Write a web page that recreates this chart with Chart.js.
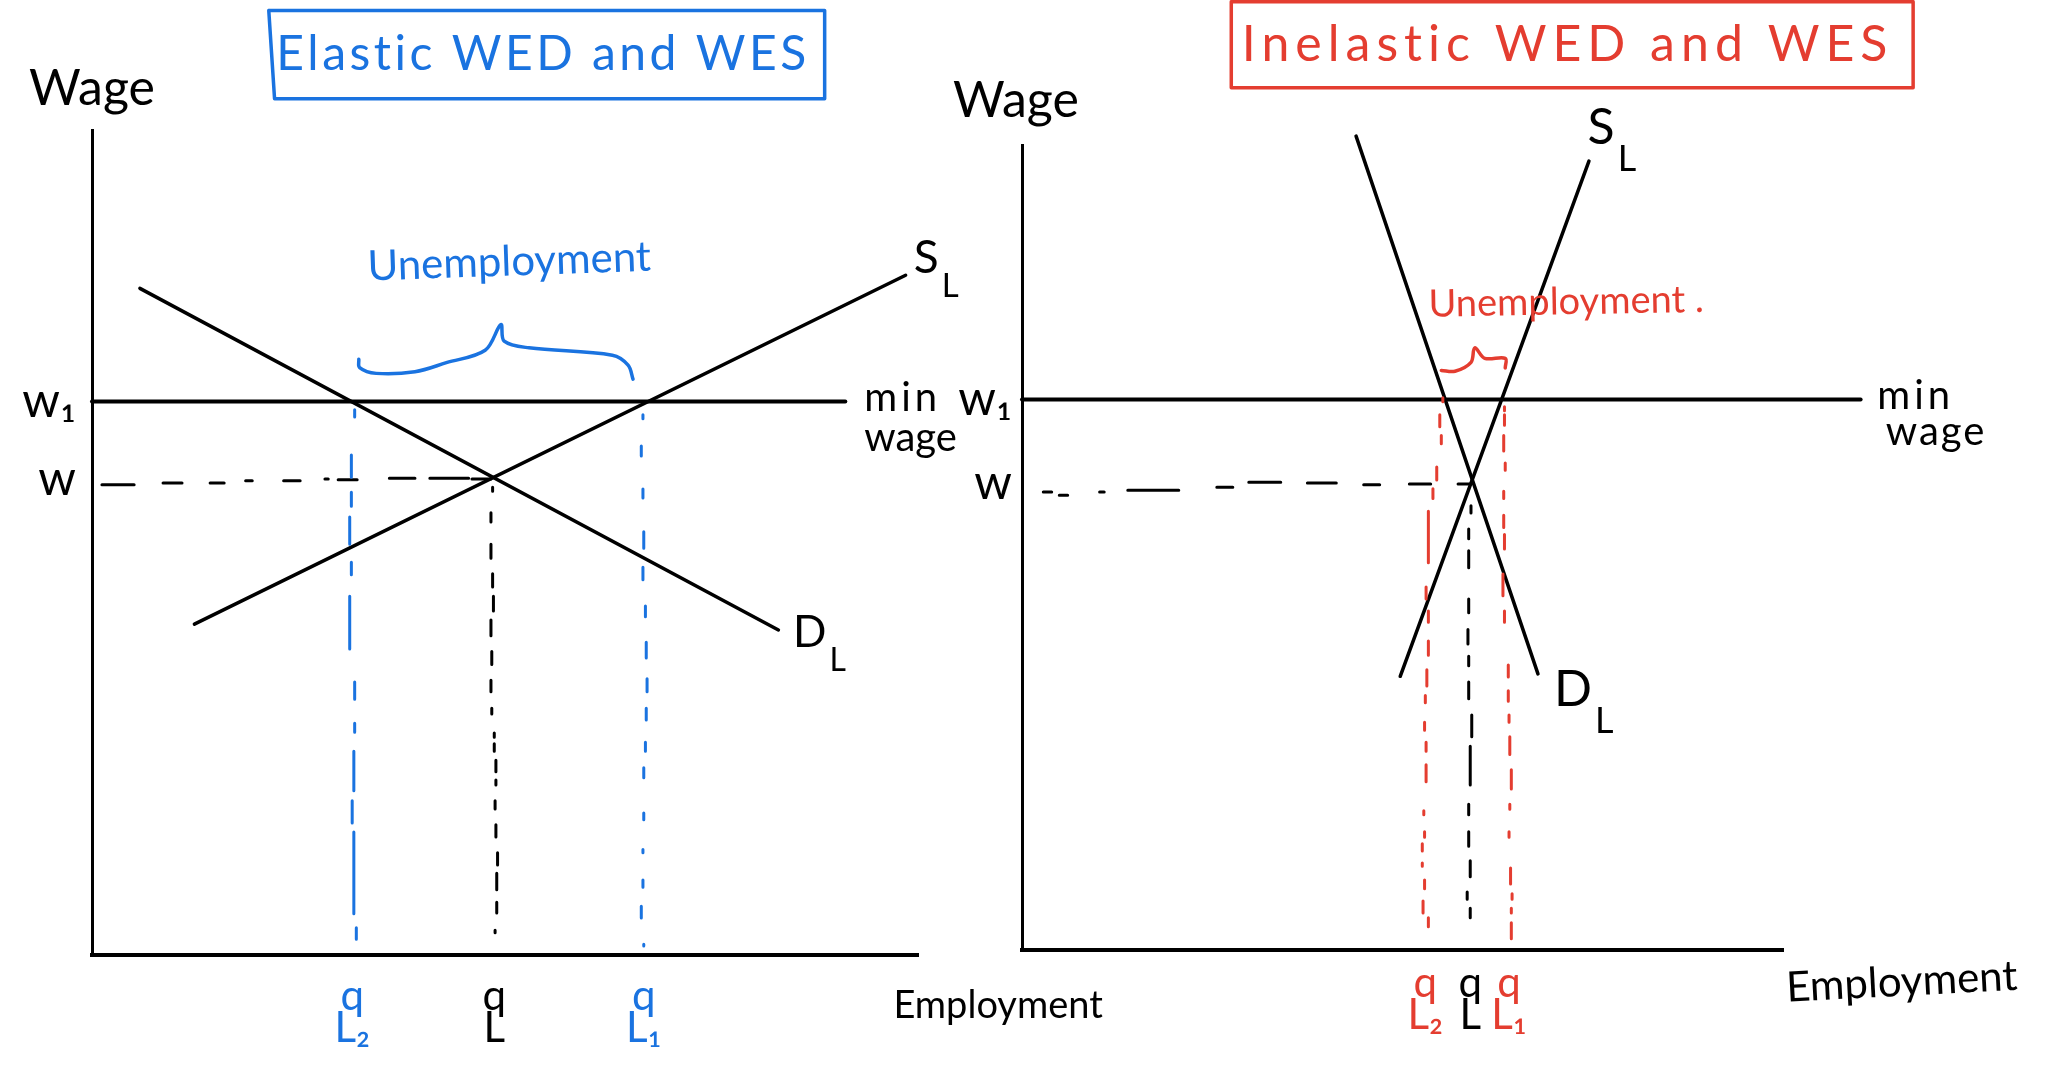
<!DOCTYPE html>
<html>
<head>
<meta charset="utf-8">
<title>Elastic and inelastic WED and WES</title>
<script src="https://cdn.jsdelivr.net/npm/chart.js@4"></script>
<style>
  html, body { margin: 0; background: #fff; }
  canvas { position: absolute; top: 0; }
  #izq { left: 0; }
  #der { left: 940px; }
</style>
</head>
<body>
<canvas id="izq" width="1120" height="1074"></canvas>
<canvas id="der" width="1108" height="1074"></canvas>
<script>
// labels
const wageTicks = ['w', 'w₁'];
const leftQTicks = [['q', 'L₂'], ['q', 'L'], ['q', 'L₁']];
const rightQTicks = [['q', 'L₂'], ['q', 'L'], ['q', 'L₁']];

// left chart, both axes run 0-100
const leftWageTickPos = [57.6, 67.1];
const leftQTickPos = [31.5, 48.7, 66.8];
const leftDemandX = [5.8, 83.1];
const leftDemandY = [80.8, 39.4];
const leftSupplyX = [12.4, 98.5];
const leftSupplyY = [40.1, 82.4];
const leftMinWageX = [0, 91.2];
const leftMinWageY = [67.1, 67.1];
const leftBoxX = [21.4, 88.7, 88.7, 22.1, 21.4];
const leftBoxY = [114.5, 114.5, 103.8, 103.8, 114.5];
const leftBraceX = [32.3, 32.4, 34.4, 39.1, 42.9, 47.6, 49.5, 49.9, 52.9, 63.0, 64.9, 65.5];
const leftBraceY = [72.2, 71.2, 70.5, 70.7, 71.8, 73.3, 76.4, 74.4, 73.6, 72.7, 71.5, 69.8];
const leftWDashX = [[1.2, 5.1], [8.6, 10.9], [14.3, 16.0], [18.6, 19.4], [23.2, 25.2], [28.2, 28.6], [29.8, 32.1], [36.0, 39.1], [40.9, 45.6], [46.0, 48.3]];
const leftWDashY = [57.0, 57.2, 57.2, 57.5, 57.5, 57.7, 57.6, 57.8, 57.8, 57.7];
const leftQ2X = [31.8, 31.4, 31.4, 31.2, 31.4, 31.2, 31.8, 31.8, 31.7, 31.5, 31.7, 32.0];
const leftQ2Dash = [[66.1, 65.2], [60.6, 57.9], [56.1, 54.4], [53.1, 49.8], [47.6, 46.1], [43.5, 37.1], [33.1, 31.0], [28.1, 27.0], [24.7, 19.9], [18.7, 16.0], [14.9, 5.0], [3.3, 1.9]];
const leftQX = [48.5, 48.3, 48.3, 48.5, 48.6, 48.3, 48.4, 48.3, 48.4, 48.7, 48.7, 48.9, 48.9, 48.8, 48.9, 49.1, 49.0, 49.0, 48.8];
const leftQDash = [[56.7, 56.2], [53.6, 52.5], [49.8, 48.1], [46.2, 44.6], [43.5, 41.7], [40.6, 38.7], [36.8, 35.2], [33.3, 31.9], [29.9, 29.2], [26.9, 26.4], [25.6, 24.7], [23.6, 22.2], [21.2, 20.6], [18.7, 17.7], [15.8, 14.3], [12.4, 10.9], [9.9, 7.9], [6.4, 5.1], [3.0, 2.7]];
const leftQ1X = [66.7, 66.5, 66.7, 66.8, 66.7, 67.0, 67.1, 67.2, 67.1, 67.0, 66.8, 66.8, 66.7, 66.7, 66.5, 66.8];
const leftQ1Dash = [[65.5, 65.0], [61.7, 60.5], [56.5, 55.4], [51.3, 49.3], [47.0, 45.5], [42.3, 41.0], [37.9, 36.0], [33.5, 31.9], [29.9, 28.5], [25.8, 24.7], [22.7, 21.5], [17.2, 16.4], [12.8, 12.4], [9.1, 8.2], [5.9, 4.5], [1.3, 1.1]];

// right chart, both axes run 0-100
const rightWageTickPos = [57.9, 68.4];
const rightQTickPos = [53.0, 58.9, 64.0];
const rightDemandX = [43.9, 67.8];
const rightDemandY = [101.1, 34.3];
const rightSupplyX = [74.5, 49.7];
const rightSupplyY = [98.0, 34.0];
const rightMinWageX = [0, 110.2];
const rightMinWageY = [68.4, 68.4];
const rightBoxX = [27.5, 117.1, 117.1, 27.5, 27.5];
const rightBoxY = [117.8, 117.8, 107.1, 107.1, 117.8];
const rightBraceX = [55.1, 56.9, 59.0, 59.5, 60.8, 63.5, 63.5];
const rightBraceY = [72.0, 71.9, 73.0, 74.8, 73.5, 73.5, 72.3];
const rightWDashX = [[2.8, 3.9], [4.9, 6.0], [10.2, 10.8], [13.9, 20.6], [25.6, 27.7], [29.8, 34.0], [37.5, 41.3], [44.9, 47.0], [50.9, 53.7], [57.3, 59.0]];
const rightWDashY = [56.9, 56.5, 56.9, 57.1, 57.5, 58.1, 58.0, 57.8, 57.9, 57.9];
const rightQ2X = [55.3, 54.9, 55.1, 54.5, 54.0, 53.4, 53.1, 53.4, 53.4, 53.2, 53.0, 52.9, 53.1, 53.1, 52.8, 52.9, 52.6, 52.6, 52.9, 52.7, 53.4];
const rightQ2Dash = [[68.6, 68.1], [66.5, 65.0], [63.9, 62.9], [60.0, 58.4], [57.3, 56.1], [54.5, 48.1], [45.1, 43.6], [42.1, 40.7], [38.4, 36.6], [34.8, 32.8], [31.6, 30.7], [28.3, 27.3], [25.8, 24.7], [23.0, 20.9], [17.3, 16.8], [14.7, 14.0], [13.2, 12.3], [10.8, 10.4], [8.7, 7.6], [6.1, 4.6], [4.0, 2.9]];
const rightQX = [59.0, 58.7, 58.7, 58.7, 58.6, 58.7, 58.7, 59.1, 58.9, 58.7, 58.7, 58.9, 58.5, 58.9];
const rightQDash = [[55.2, 54.3], [52.3, 51.1], [49.6, 47.5], [43.6, 41.9], [39.8, 38.0], [36.5, 35.3], [33.3, 31.2], [29.2, 26.5], [25.3, 20.5], [18.1, 16.8], [14.7, 12.9], [11.1, 9.1], [7.2, 6.3], [5.2, 4.0]];
const rightQ1X = [63.4, 63.4, 63.3, 63.5, 63.3, 63.3, 63.4, 63.2, 63.4, 63.9, 63.9, 64.0, 64.1, 64.3, 64.1, 64.0, 64.2, 64.4, 64.3, 64.3];
const rightQ1Dash = [[67.5, 67.0], [66.5, 65.2], [63.9, 62.0], [60.5, 59.6], [57.0, 56.1], [54.0, 52.5], [51.6, 49.8], [46.7, 44.0], [42.1, 40.7], [35.4, 33.9], [32.2, 30.9], [29.2, 28.3], [26.5, 24.3], [22.4, 20.0], [18.1, 17.5], [14.7, 14.0], [10.2, 8.2], [7.0, 6.3], [5.2, 4.6], [3.4, 1.4]];

const BLUE = '#1a73e0';
const RED = '#e43d30';
const FONT = 'Lato';

const points = (xs, ys) => xs.map((x, i) => ({ x, y: ys[i] }));
// one dash per entry, a null point makes the gap
const verticalDashes = (xs, dashes) => dashes.flatMap((d, i) => [{ x: xs[i], y: d[0] }, { x: xs[i], y: d[1] }, { x: null, y: null }]);
const horizontalDashes = (dashes, ys) => dashes.flatMap((d, i) => [{ x: d[0], y: ys[i] }, { x: d[1], y: ys[i] }, { x: null, y: null }]);

function line(data, color, width, extra) {
  return { data, borderColor: color, borderWidth: width, showLine: true, pointRadius: 0, clip: false, borderCapStyle: 'round', borderJoinStyle: 'round', ...extra };
}

// free text placed through the chart scales
function notesPlugin(notes) {
  return {
    id: 'notes',
    afterDatasetsDraw(chart) {
      const ctx = chart.ctx;
      notes.forEach(n => {
        const px = chart.scales.x.getPixelForValue(n.x);
        const py = chart.scales.y.getPixelForValue(n.y);
        ctx.save();
        ctx.font = n.size + 'px ' + FONT;
        ctx.fillStyle = n.color || '#000';
        ctx.textAlign = n.align || 'center';
        ctx.textBaseline = 'middle';
        ctx.letterSpacing = (n.spacing || 0) + 'px';
        ctx.translate(px, py);
        ctx.rotate((n.rot || 0) * Math.PI / 180);
        ctx.fillText(n.text, 0, 0);
        if (n.sub) {
          const w = ctx.measureText(n.text).width;
          ctx.font = Math.round(n.size * 0.72) + 'px ' + FONT;
          ctx.textAlign = 'left';
          ctx.fillText(n.sub, w / 2 + 3, n.size * 0.62);
        }
        ctx.restore();
      });
    }
  };
}

function drawChart(id, cfg) {
  new Chart(document.getElementById(id), {
    type: 'scatter',
    data: { datasets: cfg.datasets },
    plugins: [notesPlugin(cfg.notes)],
    options: {
      responsive: false,
      animation: false,
      layout: { padding: { top: cfg.top, right: cfg.right, left: 0, bottom: 0 } },
      plugins: { legend: { display: false }, tooltip: { enabled: false } },
      scales: {
        x: {
          min: 0,
          max: 100,
          grid: { display: false, drawTicks: false },
          border: { color: '#000', width: 4 },
          afterFit: s => { s.height = 1074 - cfg.bottom; },
          afterBuildTicks: s => { s.ticks = cfg.qPos.map(value => ({ value })); },
          ticks: {
            autoSkip: false,
            maxRotation: 0,
            padding: cfg.qPad,
            color: c => cfg.qColors[c.index],
            font: { family: FONT, size: 42, lineHeight: 0.75 },
            callback: (v, i) => cfg.qLabels[i]
          }
        },
        y: {
          min: 0,
          max: 100,
          grid: { display: false, drawTicks: false },
          border: { color: '#000', width: 3 },
          afterFit: s => { s.width = cfg.left; },
          afterBuildTicks: s => { s.ticks = cfg.wPos.map(value => ({ value })); },
          ticks: {
            autoSkip: false,
            padding: cfg.wPad,
            color: '#000',
            font: { family: FONT, size: 48 },
            callback: (v, i) => wageTicks[i]
          }
        }
      }
    }
  });
}

drawChart('izq', {
  left: 92, top: 130, right: 202, bottom: 955, qPad: 26, wPad: 16,
  wPos: leftWageTickPos, qPos: leftQTickPos, qLabels: leftQTicks, qColors: [BLUE, '#000', BLUE],
  datasets: [
    line(points(leftBoxX, leftBoxY), BLUE, 3.5),
    line(verticalDashes(leftQ2X, leftQ2Dash), BLUE, 3),
    line(verticalDashes(leftQ1X, leftQ1Dash), BLUE, 3),
    line(points(leftBraceX, leftBraceY), BLUE, 3.5, { tension: 0.35 }),
    line(horizontalDashes(leftWDashX, leftWDashY), '#000', 3),
    line(verticalDashes(leftQX, leftQDash), '#000', 3),
    line(points(leftMinWageX, leftMinWageY), '#000', 4),
    line(points(leftDemandX, leftDemandY), '#000', 3.5),
    line(points(leftSupplyX, leftSupplyY), '#000', 3.5)
  ],
  notes: [
    { text: 'Elastic WED and WES', x: 54.6, y: 109.2, size: 48, color: BLUE, spacing: 3.5 },
    { text: 'Wage', x: 0, y: 105.0, size: 50 },
    { text: 'Unemployment', x: 50.5, y: 84.0, size: 42, color: BLUE, rot: -2 },
    { text: 'S', sub: 'L', x: 101, y: 84.5, size: 46 },
    { text: 'D', sub: 'L', x: 86.9, y: 39.0, size: 44 },
    { text: 'min', x: 93.5, y: 67.5, size: 40, align: 'left', spacing: 4 },
    { text: 'wage', x: 93.5, y: 62.6, size: 40, align: 'left' },
    { text: 'Employment', x: 109.7, y: -6.1, size: 38 }
  ]
});

drawChart('der', {
  left: 82, top: 145, right: 265, bottom: 950, qPad: 18, wPad: 10,
  wPos: rightWageTickPos, qPos: rightQTickPos, qLabels: rightQTicks, qColors: [RED, '#000', RED],
  datasets: [
    line(points(rightBoxX, rightBoxY), RED, 3.5),
    line(verticalDashes(rightQ2X, rightQ2Dash), RED, 3),
    line(verticalDashes(rightQ1X, rightQ1Dash), RED, 3),
    line(points(rightBraceX, rightBraceY), RED, 3.5, { tension: 0.35 }),
    line(horizontalDashes(rightWDashX, rightWDashY), '#000', 3),
    line(verticalDashes(rightQX, rightQDash), '#000', 3),
    line(points(rightMinWageX, rightMinWageY), '#000', 4),
    line(points(rightDemandX, rightDemandY), '#000', 3.5),
    line(points(rightSupplyX, rightSupplyY), '#000', 3.5)
  ],
  notes: [
    { text: 'Inelastic WED and WES', x: 71.7, y: 112.5, size: 50, color: RED, spacing: 6 },
    { text: 'Wage', x: -0.8, y: 105.5, size: 50 },
    { text: 'Unemployment .', x: 71.5, y: 80.5, size: 38, color: RED, rot: -1 },
    { text: 'S', sub: 'L', x: 76.1, y: 102.1, size: 50 },
    { text: 'D', sub: 'L', x: 72.4, y: 32.3, size: 50 },
    { text: 'min', x: 112.4, y: 68.8, size: 40, align: 'left', spacing: 4 },
    { text: 'wage', x: 113.5, y: 64.3, size: 40, align: 'left', spacing: 2 },
    { text: 'Employment', x: 115.6, y: -4.0, size: 42, rot: -3 }
  ]
});
</script>
</body>
</html>
